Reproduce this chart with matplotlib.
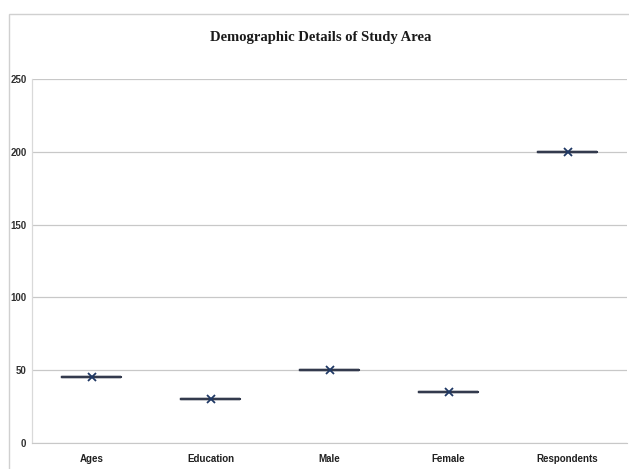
import matplotlib
matplotlib.use("Agg")
import matplotlib.pyplot as plt
from matplotlib.patches import Rectangle

categories = ["Ages", "Education", "Male", "Female", "Respondents"]
values = [45, 30, 50, 35, 200]
y_ticks = [0, 50, 100, 150, 200, 250]
title = "Demographic Details of Study Area"

W, H = 629, 469
fig = plt.figure(figsize=(W / 100, H / 100), dpi=100)
fig.patch.set_facecolor("white")

narrow = ["Liberation Sans Narrow", "Liberation Sans", "DejaVu Sans"]

# outer chart border
fig.patches.append(Rectangle((9 / W, -0.05), 1.1, 1 - 14 / H + 0.05,
                             transform=fig.transFigure, fill=False,
                             edgecolor="#d0d0d0", linewidth=1.0))

ax = fig.add_axes([32 / W, 1 - 443 / H, (627 - 32) / W, (443 - 79) / H])
positions = list(range(len(categories)))
ax.boxplot([[v] for v in values], positions=positions, widths=0.5,
           showmeans=True, showcaps=False, showfliers=False,
           boxprops=dict(color="#333a4d", linewidth=1.6),
           medianprops=dict(color="#333a4d", linewidth=1.6),
           whiskerprops=dict(color="#333a4d", linewidth=1.6),
           meanprops=dict(marker="x", markeredgecolor="#1f3864",
                          markerfacecolor="#1f3864", markersize=6,
                          markeredgewidth=1.3))

ax.set_xlim(-0.5, len(categories) - 0.5)
ax.set_ylim(0, 250)
ax.set_yticks(y_ticks)
ax.set_yticklabels([str(t) for t in y_ticks], fontfamily=narrow,
                   fontweight="bold", fontsize=7, color="#303030")
ax.set_xticks(positions)
ax.set_xticklabels(categories, fontfamily=narrow,
                   fontweight="bold", fontsize=7, color="#202020")
ax.tick_params(axis="y", length=0, pad=4)
ax.tick_params(axis="x", length=0, pad=8)
ax.grid(axis="y", color="#c8c8c8", linewidth=0.9)
ax.set_axisbelow(True)
for s in ["top", "right"]:
    ax.spines[s].set_visible(False)
ax.spines["left"].set_color("#d9d9d9")
ax.spines["bottom"].set_color("#c8c8c8")
ax.spines["left"].set_linewidth(0.9)

fig.text(321 / W, 1 - 37 / H, title, ha="center", va="center",
         fontfamily="Liberation Serif", fontweight="bold", fontsize=10.5,
         color="#1a1a1a")

fig.savefig("out.png", dpi=100)
